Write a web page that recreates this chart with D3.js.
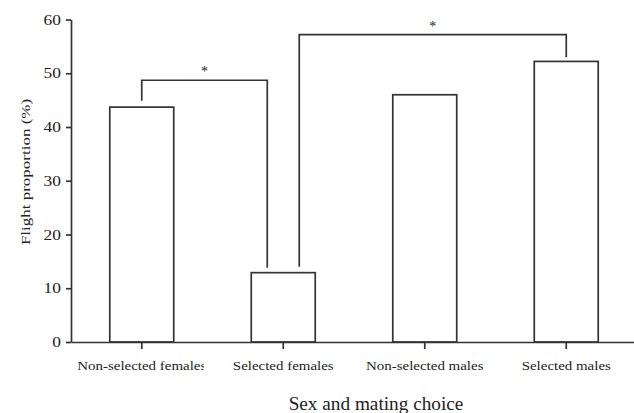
<!DOCTYPE html>
<html>
<head>
<meta charset="utf-8">
<script src="https://cdn.jsdelivr.net/npm/d3@7"></script>
<style>
  body { margin: 0; background: #fff; }
  text { font-family: "Liberation Serif", "Times New Roman", serif; fill: #222; }
</style>
</head>
<body>
<div id="chart"></div>
<script>
const categories = ["Non-selected females", "Selected females", "Non-selected males", "Selected males"];
const values = [43.7, 12.9, 46.0, 52.2];
const yTicks = [0, 10, 20, 30, 40, 50, 60];
// significance brackets: from bar / to bar, where the legs attach (fraction of bar width), leg ends and top in %
const brackets = [
    { from: 0, fromPos: 0.5, fromEnd: 44.9, to: 1, toPos: 0.25, toEnd: 13.8, top: 48.7, label: "*" },
    { from: 1, fromPos: 0.75, fromEnd: 14.0, to: 3, toPos: 0.5, toEnd: 53.0, top: 57.2, label: "*" }
];

const width = 634, height = 413;
const margin = { top: 19.5, left: 71, bottom: 71 };
const ink = "#333";
// the original text is a little stretched sideways
const tickStretch = 1.2, catStretch = 1.15;

const svg = d3.select("#chart").append("svg")
    .attr("width", width)
    .attr("height", height);

const x = d3.scaleBand()
    .domain(categories)
    .range([margin.left, 637])
    .paddingInner(0.548)
    .paddingOuter(0.274);

const y = d3.scaleLinear()
    .domain([0, 60])
    .range([height - margin.bottom, margin.top]);

// bars
svg.append("g")
    .selectAll("rect")
    .data(values)
    .enter().append("rect")
    .attr("x", (d, i) => x(categories[i]))
    .attr("y", d => y(d))
    .attr("width", x.bandwidth())
    .attr("height", d => y(0) - y(d))
    .attr("fill", "#fff")
    .attr("stroke", ink)
    .attr("stroke-width", 1.7);

// y axis
const yAxis = svg.append("g")
    .attr("transform", `translate(${margin.left},0)`)
    .call(d3.axisLeft(y).tickValues(yTicks).tickSize(5).tickSizeOuter(0));
yAxis.selectAll("text")
    .attr("font-size", 14.5)
    .attr("fill", "#222")
    .attr("x", -10 / tickStretch)
    .attr("transform", `scale(${tickStretch},1)`);

// x axis
const xAxis = svg.append("g")
    .attr("transform", `translate(0,${y(0)})`)
    .call(d3.axisBottom(x).tickSize(7).tickSizeOuter(0));
xAxis.selectAll("text")
    .attr("font-size", 13)
    .attr("fill", "#222")
    .attr("y", 19)
    .attr("transform", `scale(${catStretch},1)`);

svg.selectAll(".domain, .tick line")
    .attr("stroke", ink)
    .attr("stroke-width", 1.7);

// the first category label is cut off on its right side in the original
const firstCenter = x(categories[0]) + x.bandwidth() / 2;
svg.append("clipPath")
    .attr("id", "cut")
    .append("rect")
    .attr("x", -100).attr("y", -10)
    .attr("width", (204 - firstCenter) / catStretch + 100)
    .attr("height", 60);
xAxis.selectAll(".tick").filter(d => d === categories[0])
    .select("text")
    .attr("clip-path", "url(#cut)");

// axis titles
svg.append("text")
    .attr("transform", `translate(30,172) rotate(-90) scale(1.36,1)`)
    .attr("text-anchor", "middle")
    .attr("font-size", 12.5)
    .text("Flight proportion (%)");

svg.append("text")
    .attr("transform", `translate(376,410) scale(1.07,1)`)
    .attr("text-anchor", "middle")
    .attr("font-size", 18)
    .text("Sex and mating choice");

// significance brackets
const bx = (i, f) => x(categories[i]) + x.bandwidth() * f;
const bracketGroup = svg.append("g");
brackets.forEach(b => {
    const path = d3.path();
    path.moveTo(bx(b.from, b.fromPos), y(b.fromEnd));
    path.lineTo(bx(b.from, b.fromPos), y(b.top));
    path.lineTo(bx(b.to, b.toPos), y(b.top));
    path.lineTo(bx(b.to, b.toPos), y(b.toEnd));
    bracketGroup.append("path")
        .attr("d", path.toString())
        .attr("fill", "none")
        .attr("stroke", ink)
        .attr("stroke-width", 1.7);
    bracketGroup.append("text")
        .attr("x", (bx(b.from, b.fromPos) + bx(b.to, b.toPos)) / 2)
        .attr("y", y(b.top) - 4)
        .attr("text-anchor", "middle")
        .attr("font-size", 14)
        .attr("fill", "#555")
        .text(b.label);
});
</script>
</body>
</html>
